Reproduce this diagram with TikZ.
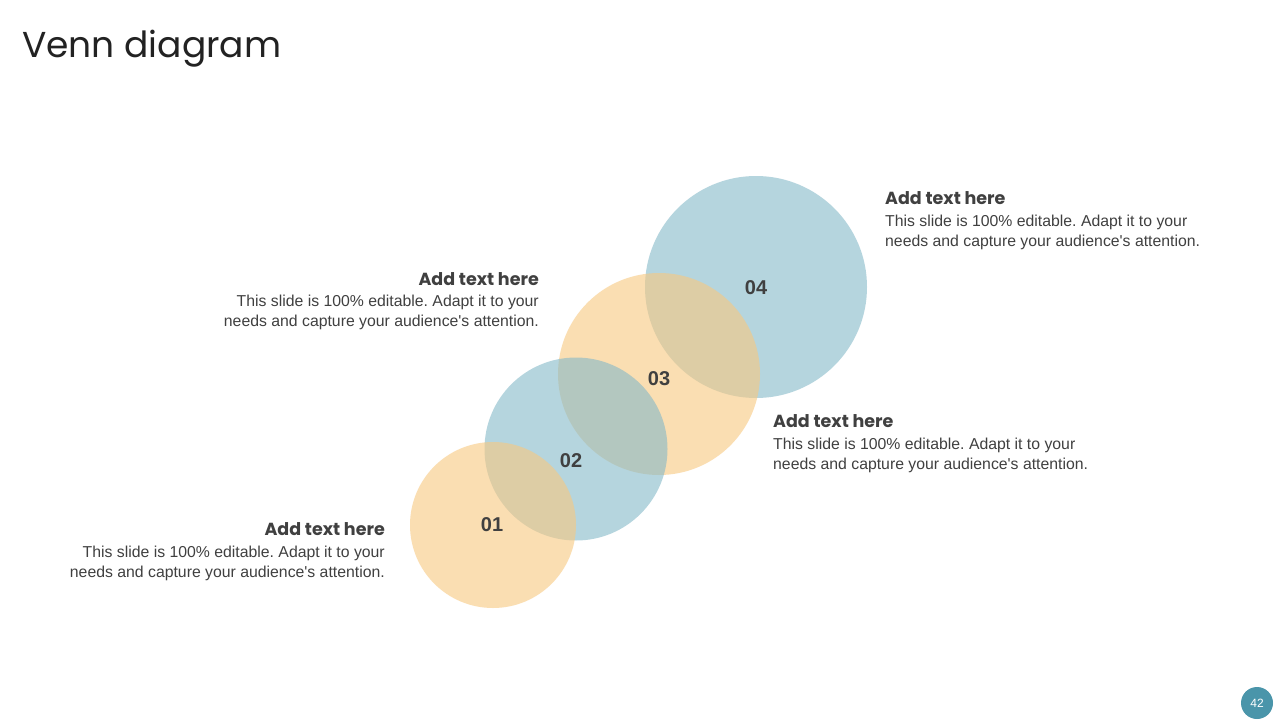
\documentclass[tikz,border=0pt]{standalone}
\usepackage{fontspec}
\setmainfont{Liberation Sans}
\newfontfamily\titlefont{Poppins}
\frenchspacing
\definecolor{venorange}{RGB}{248,200,127}
\definecolor{venblue}{RGB}{133,185,200}
\definecolor{txtgray}{RGB}{64,64,64}
\definecolor{pagebg}{RGB}{74,149,170}
\newcommand{\bodylines}{This slide is 100\% editable. Adapt it to your\\needs and capture your audience\textquotesingle s attention.}
\tikzset{
  venn/.style={circle, inner sep=0pt, fill opacity=0.6, text opacity=1, text=txtgray, font=\fontsize{20}{24}\selectfont\bfseries},
  heading/.style={inner sep=0pt, text=txtgray, font=\titlefont\fontsize{17.5}{21}\selectfont\bfseries},
  bodytext/.style={inner sep=0pt, text=txtgray, font=\fontsize{15.8}{20}\selectfont}
}
\begin{document}
\begin{tikzpicture}[x=1pt,y=-1pt]
    \useasboundingbox[fill=white] (0,0) rectangle (1280,720);
    \node[anchor=base west, inner sep=0pt, text={rgb,255:red,34;green,34;blue,34}, font=\titlefont\fontsize{36}{44}\selectfont] (title) at (22,57) {Venn diagram};

    % circles, drawn from the top one down
    \node[venn, fill=venblue, minimum size=222pt] (c4) at (756,287) {};
    \node[venn, fill=venorange, minimum size=202pt] (c3) at (659,374) {};
    \node[venn, fill=venblue, minimum size=183pt] (c2) at (576,449) {};
    \node[venn, fill=venorange, minimum size=166pt] (c1) at (493,525) {};

    \node[venn] (n1) at (492,525) {01};
    \node[venn] (n2) at (571,461) {02};
    \node[venn] (n3) at (659,379) {03};
    \node[venn] (n4) at (756,288) {04};

    % text blocks
    \node[heading, anchor=base east] (h1) at (385,535) {Add text here};
    \node[bodytext, anchor=north east, align=right] (b1) at (385,546) {\bodylines};

    \node[heading, anchor=base east] (h2) at (539,285) {Add text here};
    \node[bodytext, anchor=north east, align=right] (b2) at (539,295) {\bodylines};

    \node[heading, anchor=base west] (h3) at (773,427) {Add text here};
    \node[bodytext, anchor=north west, align=left] (b3) at (773,438) {\bodylines};

    \node[heading, anchor=base west] (h4) at (885,204) {Add text here};
    \node[bodytext, anchor=north west, align=left] (b4) at (885,215) {\bodylines};

    \node[circle, fill=pagebg, minimum size=32pt, inner sep=0pt, text=white, font=\fontsize{12}{14}\selectfont] (page) at (1257,703) {42};
\end{tikzpicture}
\end{document}
